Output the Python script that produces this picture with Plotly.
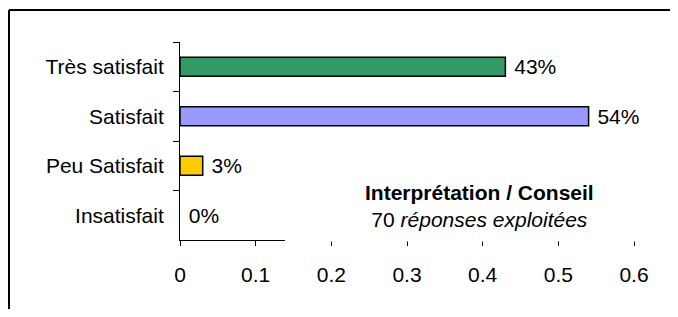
import plotly.graph_objects as go

categories = ["Très satisfait", "Satisfait", "Peu Satisfait", "Insatisfait"]
values = [0.43, 0.54, 0.03, 0.0]
labels = ["43%", "54%", "3%", "0%"]
colors = ["#339966", "#9999FF", "#FFCC00", "#FF9900"]
x_ticks = [0, 0.1, 0.2, 0.3, 0.4, 0.5, 0.6]
x_tick_text = ["0", "0.1", "0.2", "0.3", "0.4", "0.5", "0.6"]

FONT = "Liberation Sans, Arial, sans-serif"

W, H = 662, 301
L, R, T, B = 172, 36, 34, 69
PW, PH = W - L - R, H - T - B  # 454 x 198

fig = go.Figure()
fig.add_trace(go.Bar(
    y=categories, x=values, orientation="h",
    marker=dict(color=colors,
                line=dict(color="black", width=[1.5 if v > 0 else 0 for v in values])),
    width=0.38,
    text=[" " + t for t in labels], textposition="outside",
    constraintext="none",
    textfont=dict(family=FONT, size=21, color="black"),
    cliponaxis=False,
))

bx = (1 - L) / PW
by = (PH + T - 2) / PH
x_end = (W - L) / PW
y_end = -B / PH
fig.update_layout(
    width=W, height=H,
    margin=dict(l=L, r=R, t=T, b=B, autoexpand=False),
    paper_bgcolor="white", plot_bgcolor="white",
    showlegend=False,
    font=dict(family=FONT, size=21, color="black"),
    xaxis=dict(range=[0, 0.6], tickvals=x_ticks, ticktext=x_tick_text,
               showgrid=False, zeroline=False, showline=True,
               linecolor="black", linewidth=1, ticks="outside",
               ticklen=5, tickcolor="black", tickwidth=1,
               tickfont=dict(size=21), ticklabelstandoff=11, automargin=False),
    yaxis=dict(categoryorder="array", categoryarray=categories,
               autorange="reversed", showgrid=False, zeroline=False,
               showline=True, linecolor="black", linewidth=1,
               ticks="outside", tickson="boundaries", ticklen=6,
               tickcolor="black", tickwidth=1, tickfont=dict(size=21),
               ticklabelstandoff=11, automargin=False),
    shapes=[
        dict(type="rect", xref="paper", yref="paper",
             x0=(285 - 180) / PW, x1=1.05, y0=-1.5 / PH, y1=0.38,
             fillcolor="white", line=dict(width=0), layer="above"),
        dict(type="line", xref="paper", yref="paper",
             x0=bx, x1=x_end, y0=by, y1=by,
             line=dict(color="black", width=2), layer="above"),
        dict(type="line", xref="paper", yref="paper",
             x0=bx, x1=bx, y0=by, y1=y_end,
             line=dict(color="black", width=2), layer="above"),
    ],
    annotations=[
        dict(xref="paper", yref="paper",
             x=(479 - 180) / PW, y=(240 - 206) / PH,
             xanchor="center", yanchor="middle", showarrow=False,
             text="<b>Interprétation / Conseil</b><br>70 <i>réponses exploitées</i>",
             font=dict(family=FONT, size=21, color="black"), align="center"),
    ],
)

fig.write_html("out.html")
